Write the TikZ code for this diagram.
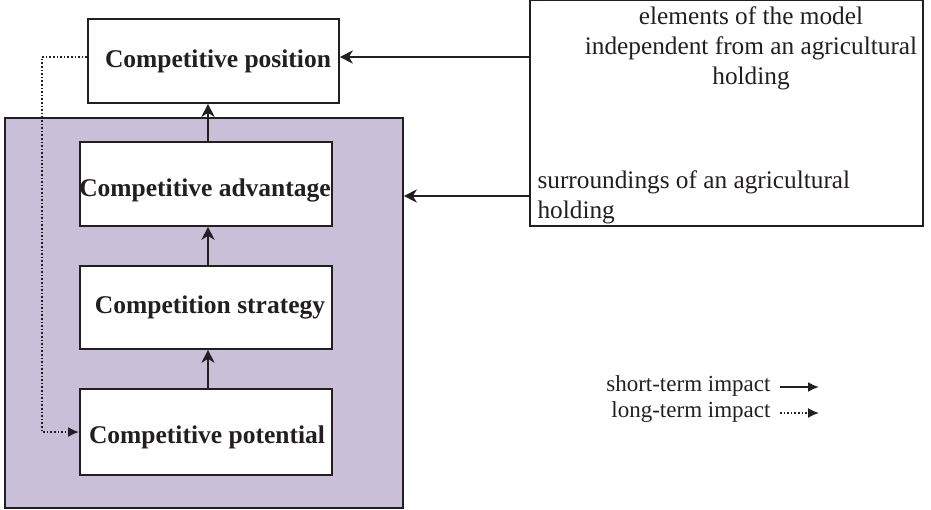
\documentclass[tikz,border=0pt]{standalone}
\usepackage{fontspec}
\setmainfont{Liberation Serif}
\usetikzlibrary{arrows.meta}
\definecolor{lilac}{RGB}{201,191,216}
\definecolor{ink}{RGB}{35,31,32}
\begin{document}
\begin{tikzpicture}[x=1pt,y=-1pt,
  box/.style={draw=ink,line width=1.8pt,fill=white,inner sep=0pt},
  conn/.style={line width=2.2pt,draw=ink,-{Stealth[length=13pt,width=13pt,inset=4pt]}},
  dotconn/.style={line width=1.6pt,draw=ink,dotted,-{Latex[length=11pt,width=10pt]}},
  lbl/.style={font=\fontsize{25.5}{30}\selectfont\bfseries,text=ink},
  txt/.style={font=\fontsize{25.3}{30}\selectfont,text=ink},
  leg/.style={font=\fontsize{23}{27}\selectfont,text=ink}]
\useasboundingbox (0,0) rectangle (931,509);
% purple container
\node[draw=ink,line width=1.8pt,fill=lilac,minimum width=398pt,minimum height=390pt,inner sep=0pt,anchor=north west] (outer) at (4,117) {};
% boxes
\node[box,minimum width=251pt,minimum height=84pt,anchor=north west] (pos) at (87,18) {};
\node[lbl] at (218,61) {Competitive position};
\node[box,minimum width=252pt,minimum height=84pt,anchor=north west] (adv) at (79,141) {};
\node[lbl] at (205,190) {Competitive advantage};
\node[box,minimum width=252pt,minimum height=83pt,anchor=north west] (str) at (79,265) {};
\node[lbl] at (210,307) {Competition strategy};
\node[box,minimum width=252pt,minimum height=86pt,anchor=north west] (pot) at (79,388) {};
\node[lbl] at (207,437) {Competitive potential};
% right box
\node[box,minimum width=393pt,minimum height=226pt,anchor=north west] (ext) at (529,-1) {};
\node[txt,align=center] at (751,48) {elements of the model\\independent from an agricultural\\holding};
\node[txt,align=left,anchor=west] at (534,197) {surroundings of an agricultural\\holding};
% connectors
\draw[conn] (adv.north -| 208,0) -- (pos.south -| 208,0);
\draw[conn] (str.north -| 208,0) -- (adv.south -| 208,0);
\draw[conn] (pot.north -| 208,0) -- (str.south -| 208,0);
\coordinate (e1) at (529,57);
\coordinate (e2) at (529,196);
\draw[conn] (e1) -- (e1 -| pos.east);
\draw[conn] (e2) -- (e2 -| outer.east);
\coordinate (d1) at (42,57);
\coordinate (d2) at (42,432);
\draw[dotconn] (pos.west |- d1) -- (d1) -- (d2) -- (d2 -| pot.west);
% legend
\node[leg,anchor=east] (l1) at (774,386) {short-term impact};
\node[leg,anchor=east] (l2) at (774,412) {long-term impact};
\coordinate (a1) at (819,387);
\coordinate (a2) at (819,413);
\draw[line width=2pt,draw=ink,-{Latex[length=11pt,width=10pt]}] (780,387) -- (a1);
\draw[line width=1.6pt,draw=ink,dotted,-{Latex[length=11pt,width=10pt]}] (780,413) -- (a2);
\end{tikzpicture}
\end{document}
